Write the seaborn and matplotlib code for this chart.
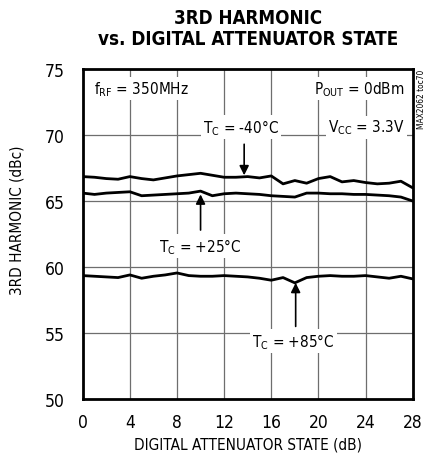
import matplotlib

matplotlib.use("Agg")
import matplotlib.pyplot as plt
import numpy as np
import pandas as pd
import seaborn as sns

# attenuator state (dB) and 3rd harmonic (dBc)
atten_state = list(range(0, 29))
h3_m40 = [66.85, 66.8, 66.7, 66.65, 66.85, 66.7, 66.6, 66.75, 66.9, 67.0,
          67.1, 66.95, 66.8, 66.8, 66.85, 66.75, 66.9, 66.3, 66.55, 66.35,
          66.7, 66.85, 66.45, 66.55, 66.4, 66.3, 66.35, 66.5, 66.0]
h3_p25 = [65.6, 65.5, 65.6, 65.65, 65.7, 65.4, 65.45, 65.5, 65.55, 65.6,
          65.75, 65.4, 65.55, 65.6, 65.55, 65.5, 65.4, 65.35, 65.3, 65.6,
          65.6, 65.55, 65.55, 65.5, 65.5, 65.45, 65.4, 65.3, 65.0]
h3_p85 = [59.35, 59.3, 59.25, 59.2, 59.4, 59.15, 59.3, 59.4, 59.55, 59.35,
          59.3, 59.3, 59.35, 59.3, 59.25, 59.15, 59.0, 59.2, 58.8, 59.2,
          59.3, 59.35, 59.3, 59.3, 59.35, 59.25, 59.15, 59.3, 59.1]
temps = ["-40°C", "+25°C", "+85°C"]
x_ticks = [0, 4, 8, 12, 16, 20, 24, 28]
y_ticks = [50, 55, 60, 65, 70, 75]

sns.set_style("white")
plt.rcParams["font.family"] = ["DejaVu Sans"]
plt.rcParams["font.stretch"] = "condensed"
plt.rcParams["mathtext.fontset"] = "custom"
plt.rcParams["mathtext.rm"] = "DejaVu Sans:stretch=condensed"
plt.rcParams["mathtext.it"] = "DejaVu Sans:stretch=condensed"
plt.rcParams["text.color"] = "black"
plt.rcParams["axes.labelcolor"] = "black"
plt.rcParams["xtick.color"] = "black"
plt.rcParams["ytick.color"] = "black"

df = pd.concat(
    [
        pd.DataFrame({"state": atten_state, "h3": vals, "temp": t})
        for t, vals in zip(temps, [h3_m40, h3_p25, h3_p85])
    ]
)

fig = plt.figure(figsize=(4.27, 4.64), dpi=100)
ax = fig.add_axes([0.1937, 0.1379, 0.7728, 0.7112])

for v in x_ticks[1:-1]:
    ax.axvline(v, color="#6e6e6e", lw=0.9, zorder=0)
for v in y_ticks[1:-1]:
    ax.axhline(v, color="#6e6e6e", lw=0.9, zorder=0)

sns.lineplot(
    data=df, x="state", y="h3", hue="temp",
    palette=["black"] * 3, lw=2.0, legend=False, ax=ax, zorder=3,
)

ax.set_xlim(0, 28)
ax.set_ylim(50, 75)
ax.set_xticks(x_ticks)
ax.set_yticks(y_ticks)
ax.tick_params(axis="both", labelsize=12.5, length=0)
ax.tick_params(axis="x", pad=10)
ax.tick_params(axis="y", pad=13)
for s in ax.spines.values():
    s.set_linewidth(2.0)
    s.set_color("black")
ax.set_xlabel("DIGITAL ATTENUATOR STATE (dB)", fontsize=11, labelpad=4)
ax.set_ylabel("3RD HARMONIC (dBc)", fontsize=11)
ax.yaxis.set_label_coords(-0.175, 0.545)

fig.text(0.58, 0.938, "3RD HARMONIC\nvs. DIGITAL ATTENUATOR STATE",
         ha="center", va="center", fontsize=13.5, fontweight="bold",
         linespacing=1.12)

box = dict(facecolor="white", edgecolor="none", pad=1.5)
ax.text(1.0, 73.5, r"f$_{\mathrm{RF}}$ = 350MHz", fontsize=11,
        ha="left", va="center", bbox=box, zorder=4)
ax.text(27.3, 73.5, r"P$_{\mathrm{OUT}}$ = 0dBm", fontsize=11,
        ha="right", va="center", bbox=box, zorder=4)
ax.text(27.3, 70.6, r"V$_{\mathrm{CC}}$ = 3.3V", fontsize=11,
        ha="right", va="center", bbox=box, zorder=4)

arrow = dict(arrowstyle="-|>", color="black", lw=1.2, mutation_scale=14,
             shrinkA=0, shrinkB=0)
ax.text(13.4, 70.6, r"T$_{\mathrm{C}}$ = -40°C", fontsize=11,
        ha="center", va="center", bbox=box, zorder=4)
ax.annotate("", xy=(13.7, 66.95), xytext=(13.7, 69.3), arrowprops=arrow, zorder=5)
ax.text(10.0, 61.6, r"T$_{\mathrm{C}}$ = +25°C", fontsize=11,
        ha="center", va="center", bbox=box, zorder=4)
ax.annotate("", xy=(10.0, 65.5), xytext=(10.0, 62.8), arrowprops=arrow, zorder=5)
ax.text(17.9, 54.4, r"T$_{\mathrm{C}}$ = +85°C", fontsize=11,
        ha="center", va="center", bbox=box, zorder=4)
ax.annotate("", xy=(18.07, 58.8), xytext=(18.07, 55.5), arrowprops=arrow, zorder=5)

fig.text(0.988, 0.85, "MAX2062 toc70", rotation=90, fontsize=6,
         ha="center", va="top")

fig.savefig("out.png", dpi=100)
